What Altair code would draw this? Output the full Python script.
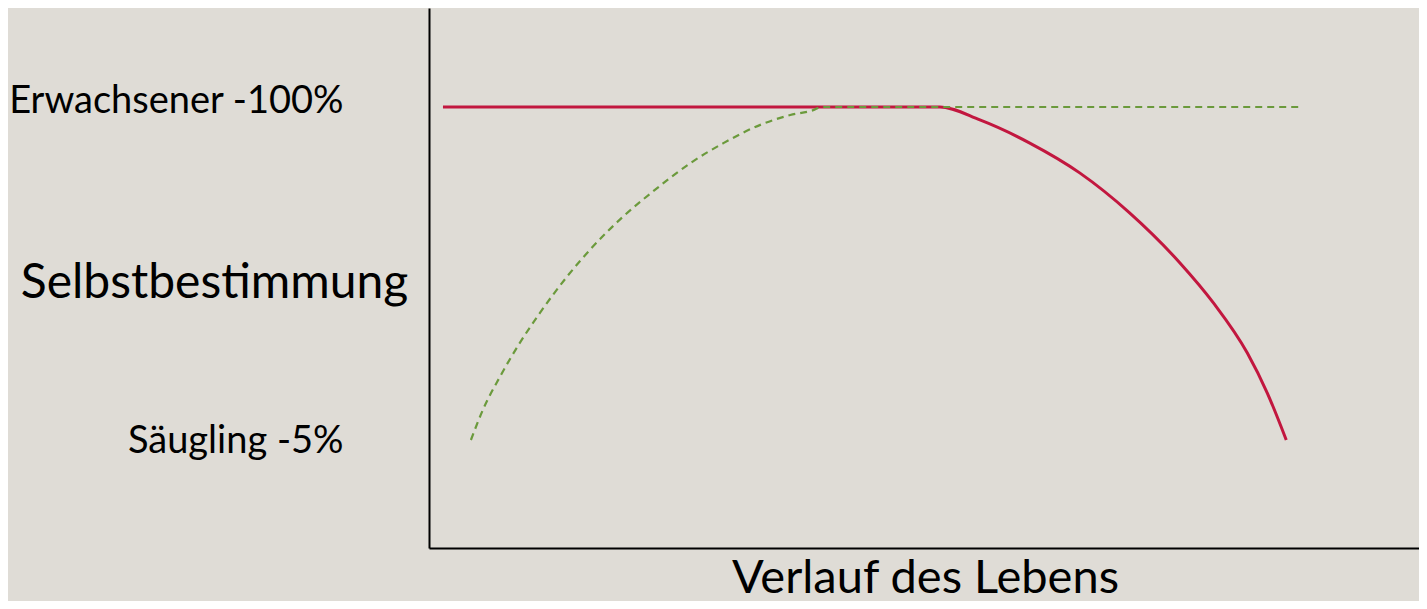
import altair as alt
import pandas as pd

# Red line: adult self-determination over the life course (x: life course 0-100, y: %)
red_x = [1.4, 51.2, 55.2, 60.2, 65.2, 70.2, 75.25, 78.6, 82.0, 84.0, 85.9]
red_y = [100, 100, 96.3, 89.7, 81.2, 69.8, 55.5, 44.1, 29.8, 18.4, 5.0]

# Green dashed line: growth from infant to adult
green_x = [4.2, 5.4, 7.1, 9.1, 11.1, 13.8, 16.4, 19.4, 22.4, 26.2, 29.5, 33.2, 36.2, 38.5, 39.3, 87.3]
green_y = [5.0, 13.6, 23.0, 32.7, 41.2, 51.5, 60.1, 68.6, 75.8, 84.0, 89.7, 94.9, 97.7, 99.1, 100, 100]

tick_values = [100, 5]
tick_labels = ["Erwachsener -100%", "Säugling -5%"]
y_title = "Selbstbestimmung"
x_title = "Verlauf des Lebens"

BG = "#dfdcd6"
RED = "#c2173f"
GREEN = "#6b9a3c"
FONT = "Lato"

red_df = pd.DataFrame({"x": red_x, "y": red_y, "order": range(len(red_x))})
green_df = pd.DataFrame({"x": green_x, "y": green_y, "order": range(len(green_x))})

label_expr = " : ".join(
    [f"datum.value == {v} ? '{t}'" for v, t in zip(tick_values[:-1], tick_labels[:-1])]
    + [f"'{tick_labels[-1]}'"]
)

x_scale = alt.Scale(domain=[0, 99.2], nice=False, zero=False)
y_scale = alt.Scale(domain=[-25.81, 128.24], nice=False, zero=False)

x_axis = alt.Axis(
    title=x_title, labels=False, ticks=False, grid=False,
    domainColor="black", domainWidth=2,
    titleFont=FONT, titleFontSize=47, titleFontWeight="normal", titleColor="black",
    titleBaseline="alphabetic", titleAnchor="start", titleAlign="center",
    titleX=496, titleY=44, titleLimit=0,
)
y_axis = alt.Axis(
    title=y_title, values=tick_values, labelExpr=label_expr, ticks=False, grid=False,
    domainColor="black", domainWidth=2,
    labelFont=FONT, labelFontSize=38, labelColor="black", labelLimit=0,
    labelBaseline="alphabetic", labelAlign="right", labelPadding=86,
    labelOffset={"condition": {"test": "datum.value == 100", "value": 6}, "value": 12},
    titleFont=FONT, titleFontSize=48, titleFontWeight="normal", titleColor="black",
    titleAngle=0, titleAlign="center", titleBaseline="alphabetic",
    titleX=-215, titleY=289, titleLimit=0,
)

red = alt.Chart(red_df).mark_line(color=RED, strokeWidth=3, interpolate="monotone").encode(
    x=alt.X("x:Q", scale=x_scale, axis=x_axis),
    y=alt.Y("y:Q", scale=y_scale, axis=y_axis),
    order="order:Q",
)
green = alt.Chart(green_df).mark_line(
    color=GREEN, strokeWidth=2.2, strokeDash=[7, 5], interpolate="monotone"
).encode(
    x=alt.X("x:Q", scale=x_scale),
    y=alt.Y("y:Q", scale=y_scale),
    order="order:Q",
)

chart = alt.layer(red, green).properties(
    width=990, height=540,
    autosize=alt.AutoSizeParams(type="none"),
    padding={"left": 421, "top": 0, "right": 0, "bottom": 53},
    background=BG,
).configure_view(stroke=None)

chart.save("out.html", embed_options={"renderer": "svg", "actions": False})
